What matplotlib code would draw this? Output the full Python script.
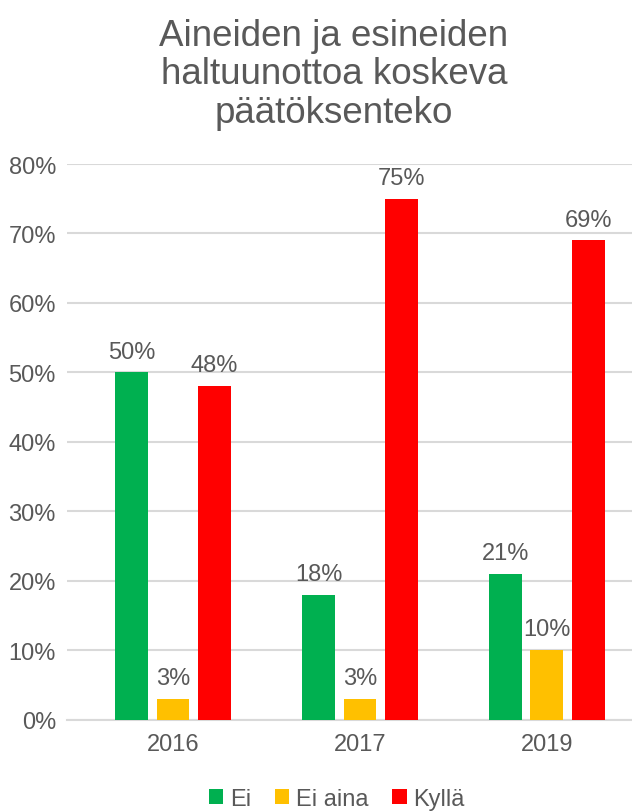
import numpy as np
import matplotlib.pyplot as plt

plt.rcParams['font.family'] = ['Liberation Sans', 'DejaVu Sans']

# Data
years = ['2016', '2017', '2019']
series = ['Ei', 'Ei aina', 'Kyllä']
ei = [50, 18, 21]
ei_aina = [3, 3, 10]
kylla = [48, 75, 69]
colors = ['#00B050', '#FFC000', '#FF0000']

text_color = '#595959'

fig = plt.figure(figsize=(6.32, 8.12), dpi=100)
ax = fig.add_axes([67 / 632, 1 - 720.5 / 812, 1 - 67 / 632, (720.5 - 165) / 812])

x = np.arange(len(years))
width = 0.176
offset = 0.22
for i, (vals, name) in enumerate(zip([ei, ei_aina, kylla], series)):
    bars = ax.bar(x + (i - 1) * offset, vals, width, color=colors[i], label=name, zorder=3)
    for b, v in zip(bars, vals):
        ax.annotate(f'{v}%', (b.get_x() + b.get_width() / 2, v), xytext=(0, 7),
                    textcoords='offset points', ha='center', va='bottom',
                    fontsize=17, color=text_color)

ax.set_xlim(-0.567, 2.455)
ax.set_ylim(0, 80)
ax.set_yticks(range(0, 81, 10))
ax.set_yticklabels([f'{t}%' for t in range(0, 81, 10)])
ax.set_xticks(x)
ax.set_xticklabels(years)
ax.tick_params(axis='both', length=0, labelsize=17, labelcolor=text_color)
ax.tick_params(axis='y', pad=8)
ax.tick_params(axis='x', pad=10)
ax.grid(axis='y', color='#D9D9D9', linewidth=1.5, zorder=0)
for s in ['top', 'right', 'left']:
    ax.spines[s].set_visible(False)
ax.spines['bottom'].set_color('#D9D9D9')
ax.spines['bottom'].set_linewidth(1.5)

fig.text(334 / 632, 1 - 75 / 812, 'Aineiden ja esineiden\nhaltuunottoa koskeva\npäätöksenteko',
         ha='center', va='center', fontsize=26.5, color=text_color, linespacing=1.12)

fig.legend(loc='center', bbox_to_anchor=(337 / 632, 1 - 800 / 812), ncol=3, frameon=False,
           fontsize=17, labelcolor=text_color, handlelength=0.6, handleheight=0.6,
           handletextpad=0.3, columnspacing=1.0)

fig.savefig('out.png', dpi=100)
